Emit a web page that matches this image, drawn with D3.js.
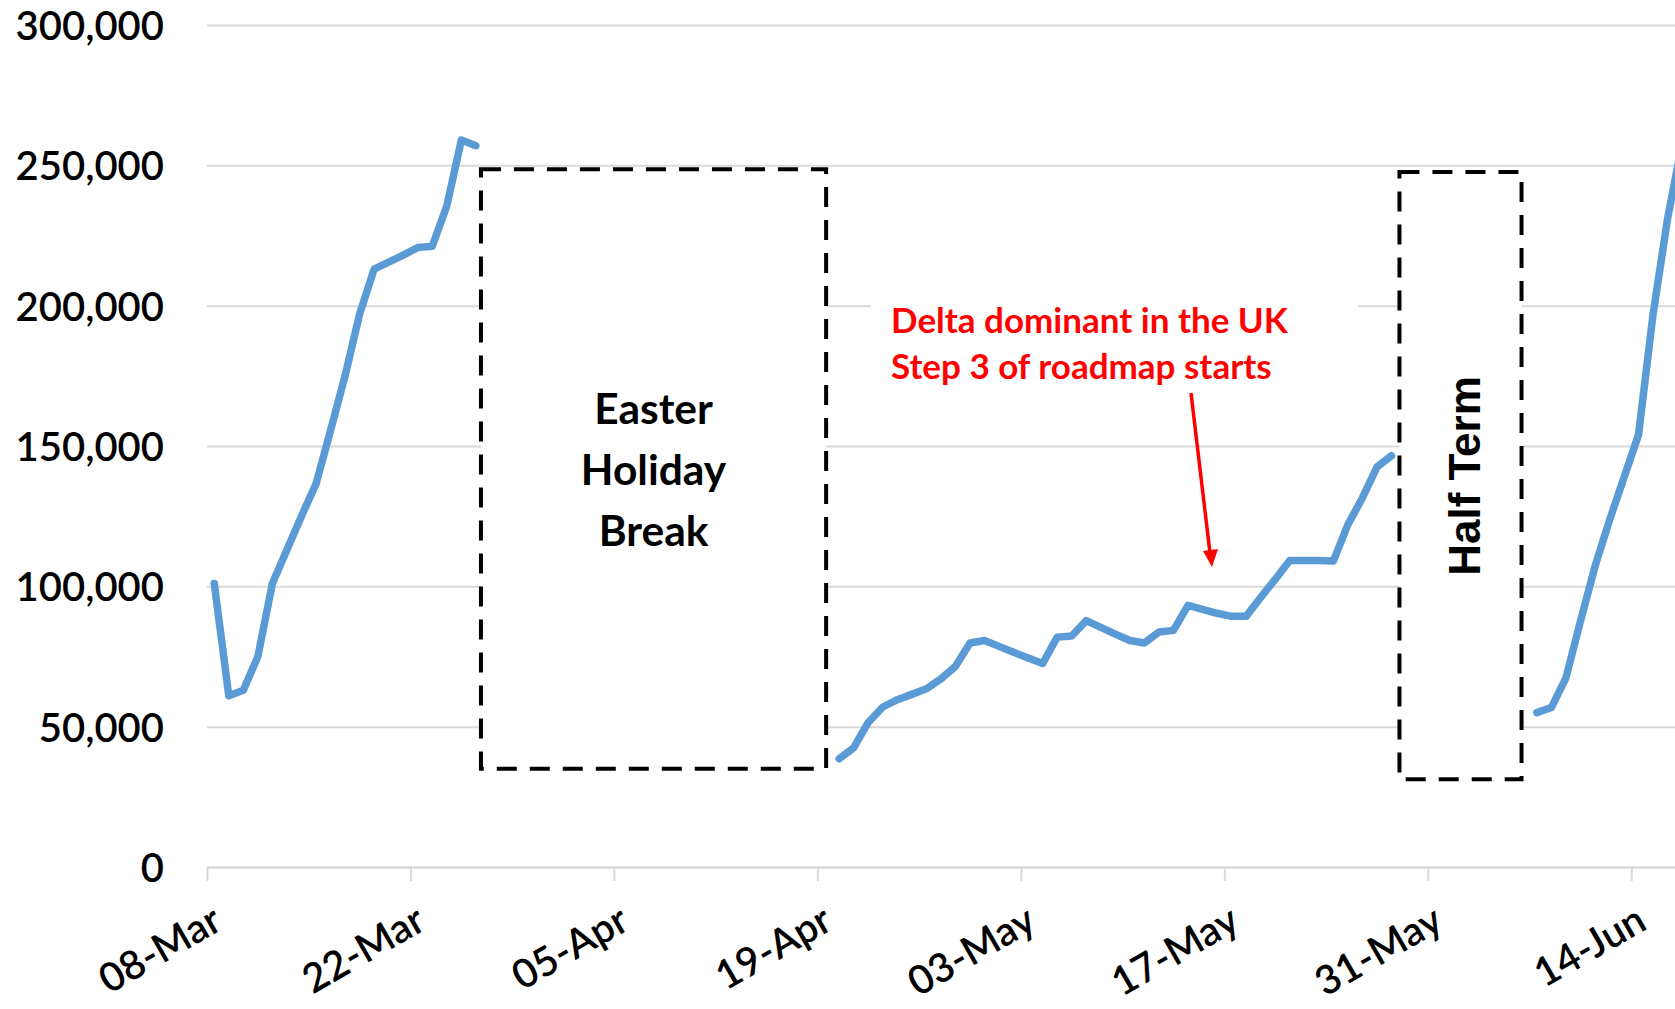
<!DOCTYPE html>
<html>
<head>
<meta charset="utf-8">
<script src="https://cdn.jsdelivr.net/npm/d3@7"></script>
<style>
body { margin: 0; background: #fff; }
svg { display: block; font-family: Lato, "Open Sans", sans-serif; }
</style>
</head>
<body>
<div id="chart"></div>
<script>

// daily values, one array for each stretch of school days
var springStart = "2021-03-08";
var springValues = [101000, 61000, 63000, 75000, 101000, 113000, 125000, 136500, 155500, 175000,
    197000, 213000, 215500, 218000, 220700, 221200, 235500, 259000, 257000];

var summerStart = "2021-04-20";
var summerValues = [38600, 42500, 51500, 57000, 59600, 61500, 63500, 67000, 71500, 79800,
    80700, 78600, 76500, 74500, 72500, 81900, 82300, 87800, 85400, 83000,
    80700, 79800, 83700, 84300, 93200, 91800, 90400, 89300, 89300, 96000,
    102500, 109200, 109200, 109200, 109000, 122000, 131500, 142500, 146500];

var juneStart = "2021-06-07";
var juneValues = [55000, 56800, 67300, 87500, 107000, 123500, 138800, 154000, 197000, 231000, 258000];

var tickLabels = ["08-Mar", "22-Mar", "05-Apr", "19-Apr", "03-May", "17-May", "31-May", "14-Jun"];
var yTicks = [0, 50000, 100000, 150000, 200000, 250000, 300000];

// school breaks, in days from 08-Mar
var breakNames = [["Easter", "Holiday", "Break"], ["Half Term"]];
var breakDays = [[18.85, 42.6], [82.05, 90.45]];
var breakRange = [[35000, 248600], [31300, 247600]];

var note = ["Delta dominant in the UK", "Step 3 of roadmap starts"];


var width = 1675, height = 1009;
var origin = new Date(springStart);
var dayIndex = function(s){ return d3.utcDay.count(origin, new Date(s)); };

var x = d3.scaleLinear().domain([0, 105]).range([207, 1733]);
var y = d3.scaleLinear().domain([0, 300000]).range([867, 25]);

var svg = d3.select("#chart").append("svg")
    .attr("width", width)
    .attr("height", height);

// gridlines + value labels
var yAxis = svg.append("g")
    .attr("transform", "translate(" + x(0) + ",0)")
    .call(d3.axisLeft(y).tickValues(yTicks).tickFormat(d3.format(","))
        .tickSizeInner(-(x(105) - x(0))).tickSizeOuter(0).tickPadding(43))
    .attr("font-family", null)
    .attr("font-size", null);
yAxis.select(".domain").remove();
yAxis.selectAll("line").attr("stroke", "#d9d9d9").attr("stroke-width", 2);
yAxis.selectAll("text")
    .attr("fill", "#000")
    .attr("font-size", 40)
    .attr("font-weight", 600)
    .attr("dy", "0.36em");

// date axis
var tickIdx = tickLabels.map(function(t){ return dayIndex(t + "-2021"); });
var xAxis = svg.append("g")
    .attr("transform", "translate(0," + y(0) + ")")
    .call(d3.axisBottom(x).tickValues(tickIdx)
        .tickFormat(function(d, i){ return tickLabels[i]; })
        .tickSizeInner(14).tickSizeOuter(0))
    .attr("font-family", null)
    .attr("font-size", null);
xAxis.select(".domain").attr("stroke", "#d9d9d9").attr("stroke-width", 2);
xAxis.selectAll("line").attr("stroke", "#d9d9d9").attr("stroke-width", 2);
xAxis.selectAll("text")
    .attr("fill", "#000")
    .attr("font-size", 40)
    .attr("font-weight", 600)
    .attr("x", 0).attr("y", 0).attr("dy", 0)
    .attr("text-anchor", "end")
    .attr("transform", "translate(17,61) rotate(-30)");

// the series, drawn per stretch
var segments = [[springStart, springValues], [summerStart, summerValues], [juneStart, juneValues]];
var line = d3.line()
    .x(function(d){ return x(d.day + 0.5); })
    .y(function(d){ return y(d.value); });

svg.append("g").selectAll("path")
    .data(segments.map(function(s){
        var first = dayIndex(s[0]);
        return s[1].map(function(v, i){ return { day: first + i, value: v }; });
    }))
    .enter().append("path")
    .attr("d", line)
    .attr("fill", "none")
    .attr("stroke", "#5b9bd5")
    .attr("stroke-width", 7.5)
    .attr("stroke-linejoin", "round")
    .attr("stroke-linecap", "round");

// break boxes
var boxes = svg.append("g").selectAll("g")
    .data(breakNames.map(function(n, i){
        return { lines: n, days: breakDays[i], range: breakRange[i] };
    }))
    .enter().append("g");

boxes.append("rect")
    .attr("x", function(d){ return x(d.days[0]); })
    .attr("y", function(d){ return y(d.range[1]); })
    .attr("width", function(d){ return x(d.days[1]) - x(d.days[0]); })
    .attr("height", function(d){ return y(d.range[0]) - y(d.range[1]); })
    .attr("fill", "#fff")
    .attr("stroke", "#000")
    .attr("stroke-width", 4)
    .attr("stroke-dasharray", "20,13");

var easter = boxes.filter(function(d, i){ return i == 0; });
easter.selectAll("text")
    .data(function(d){ return d.lines.map(function(t){ return { t: t, cx: x((d.days[0] + d.days[1]) / 2) }; }); })
    .enter().append("text")
    .attr("x", function(d){ return d.cx; })
    .attr("y", function(d, i){ return 424 + i * 61; })
    .attr("text-anchor", "middle")
    .attr("font-size", 42.5)
    .attr("font-weight", "bold")
    .text(function(d){ return d.t; });

var half = boxes.filter(function(d, i){ return i == 1; });
half.append("text")
    .attr("transform", "translate(1480,476) rotate(-90)")
    .attr("text-anchor", "middle")
    .attr("font-family", "'Liberation Sans', Arial, sans-serif")
    .attr("font-size", 44)
    .attr("font-weight", "bold")
    .text(function(d){ return d.lines[0]; });

// red annotation
var ann = svg.append("g");
ann.append("rect")
    .attr("x", 871).attr("y", 285)
    .attr("width", 487).attr("height", 108)
    .attr("fill", "#fff");
ann.selectAll("text")
    .data(note)
    .enter().append("text")
    .attr("x", 891)
    .attr("y", function(d, i){ return 333 + i * 45.5; })
    .attr("fill", "#ff0000")
    .attr("font-size", 35)
    .attr("font-weight", "bold")
    .text(function(d){ return d; });

ann.append("line")
    .attr("x1", 1191).attr("y1", 393)
    .attr("x2", 1210).attr("y2", 553)
    .attr("stroke", "#ff0000")
    .attr("stroke-width", 3.5);
ann.append("path")
    .attr("d", "M1212,567 L1203,551 L1218,549 Z")
    .attr("fill", "#ff0000");

</script>
</body>
</html>
